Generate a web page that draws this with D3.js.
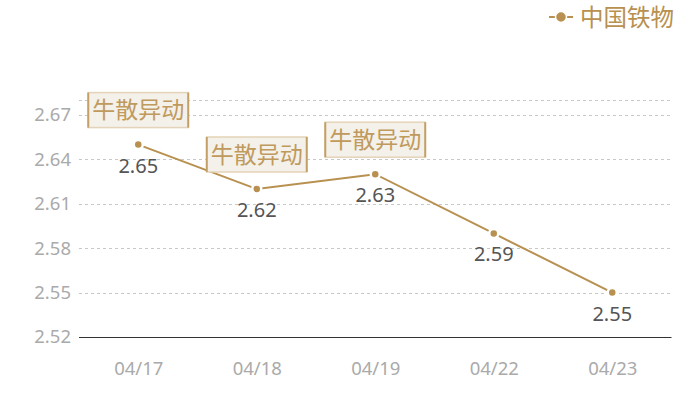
<!DOCTYPE html>
<html><head><meta charset="utf-8">
<script src="https://cdn.jsdelivr.net/npm/d3@7/dist/d3.min.js"></script>
<style>
html,body{margin:0;padding:0;background:#fff;}
svg{display:block;font-family:"Noto Sans","Noto Sans CJK SC",sans-serif;}
</style></head>
<body><svg id="c" width="700" height="400"></svg>
<script>
const categories = ["04/17","04/18","04/19","04/22","04/23"];
const values = [2.65, 2.62, 2.63, 2.59, 2.55];
const seriesName = "中国铁物";
const yTicks = [2.52, 2.55, 2.58, 2.61, 2.64, 2.67];
const yMax = 2.68;
const annotatedDates = ["04/17","04/18","04/19"];
const annotationText = "牛散异动";

const gold = "#b8904f";
const svg = d3.select("#c");
const plotLeft = 79, plotRight = 671.5, plotTop = 100.2, plotBottom = 337;

const x = d3.scalePoint().domain(categories).range([plotLeft, plotRight]).padding(0.5);
const y = d3.scaleLinear().domain([yTicks[0], yMax]).range([plotBottom, plotTop]);

// grid
const gridVals = yTicks.slice(1).concat([yMax]);
svg.append("g").selectAll("line").data(gridVals).join("line")
  .attr("x1", plotLeft).attr("x2", plotRight)
  .attr("y1", d => Math.round(y(d)) + 0.5).attr("y2", d => Math.round(y(d)) + 0.5)
  .attr("stroke", "#c8c8c8").attr("stroke-width", 1).attr("stroke-dasharray", "3,3");

// y axis labels
const yAxis = d3.axisLeft(y).tickValues(yTicks).tickFormat(d3.format(".2f")).tickSize(0).tickPadding(8);
const ya = svg.append("g").attr("transform", `translate(${plotLeft},0)`).call(yAxis);
ya.select(".domain").remove();
ya.selectAll("text").attr("fill", "#aaaaaa").attr("font-size", 18.5).attr("font-family", '"Noto Sans","Noto Sans CJK SC",sans-serif');

// x axis
const xAxis = d3.axisBottom(x).tickSize(0).tickPadding(25);
const xa = svg.append("g").attr("transform", `translate(0,${plotBottom})`).call(xAxis);
xa.select(".domain").attr("d", `M${plotLeft},0.5H${plotRight}`).attr("stroke", "#333").attr("stroke-width", 1.2);
xa.selectAll("text").attr("fill", "#aaaaaa").attr("font-size", 18.5).attr("font-family", '"Noto Sans","Noto Sans CJK SC",sans-serif');

// line
const data = categories.map((c, i) => ({c, v: values[i]}));
svg.append("path").datum(data)
  .attr("fill", "none").attr("stroke", gold).attr("stroke-width", 2)
  .attr("d", d3.line().x(d => x(d.c)).y(d => y(d.v)));

// markers
svg.append("g").selectAll("circle").data(data).join("circle")
  .attr("cx", d => x(d.c)).attr("cy", d => y(d.v)).attr("r", 4.5)
  .attr("fill", gold).attr("stroke", "#fff").attr("stroke-width", 2.5);

// value labels
svg.append("g").selectAll("text").data(data).join("text")
  .attr("x", d => x(d.c)).attr("y", d => y(d.v) + 28)
  .attr("text-anchor", "middle").attr("fill", "#555").attr("font-size", 20)
  .text(d => d.v.toFixed(2));

// annotation boxes
const ann = data.filter(d => annotatedDates.includes(d.c));
const bw = 100, bh = 35, gap = 17;
const ag = svg.append("g").selectAll("g").data(ann).join("g")
  .attr("transform", d => `translate(${x(d.c) - bw / 2},${y(d.v) - gap - bh})`);
ag.append("rect").attr("width", bw).attr("height", bh).attr("fill", "#f4f0ea")
  .attr("stroke", "#e4d3b8").attr("stroke-width", 1.5);
ag.append("line").attr("x1", 0).attr("x2", 0).attr("y1", 0).attr("y2", bh).attr("stroke", "#c5a066").attr("stroke-width", 2);
ag.append("line").attr("x1", bw).attr("x2", bw).attr("y1", 0).attr("y2", bh).attr("stroke", "#c5a066").attr("stroke-width", 2);
ag.append("text").attr("x", bw / 2).attr("y", bh / 2 + 8).attr("text-anchor", "middle")
  .attr("fill", "#bf9a5c").attr("font-size", 23).attr("font-family", '"Noto Sans CJK SC",sans-serif')
  .text(annotationText);

// legend
const lg = svg.append("g");
lg.append("line").attr("x1", 549).attr("x2", 573).attr("y1", 17).attr("y2", 17).attr("stroke", gold).attr("stroke-width", 2);
lg.append("circle").attr("cx", 561).attr("cy", 17).attr("r", 5.5).attr("fill", gold).attr("stroke", "#fff").attr("stroke-width", 1.5);
lg.append("text").attr("x", 580).attr("y", 26).attr("fill", gold).attr("font-size", 23.5)
  .attr("font-family", '"Noto Sans CJK SC",sans-serif').text(seriesName);
</script></body></html>
